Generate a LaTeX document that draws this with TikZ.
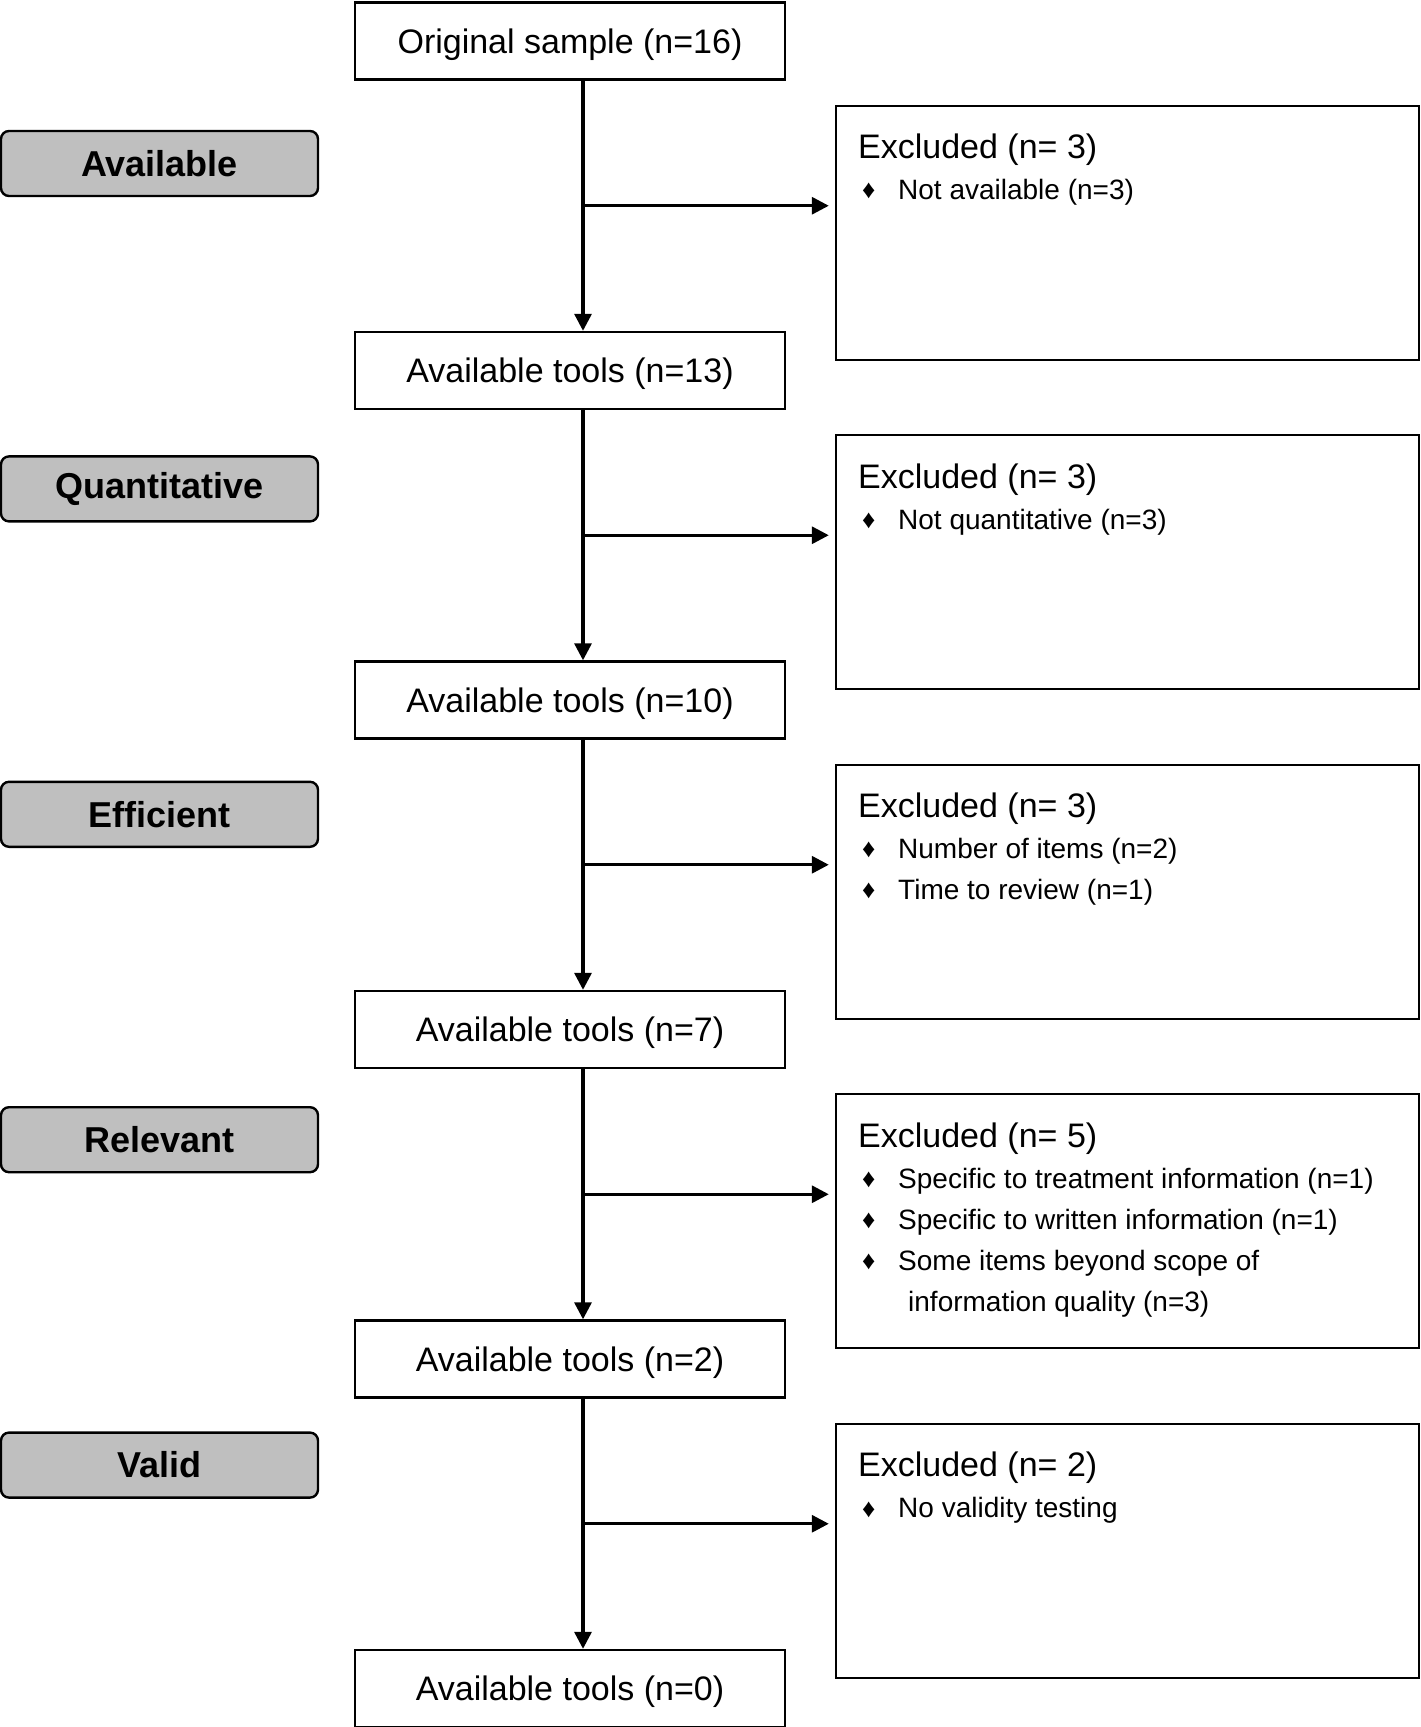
\documentclass[tikz,border=0pt]{standalone}
\usepackage{fontspec}
\setmainfont{Liberation Sans}
\usetikzlibrary{arrows.meta, positioning, calc}

\newcommand{\puce}{\hspace*{2pt}\makebox[18pt][l]{\fontsize{13}{13}\selectfont\raisebox{0.3pt}{♦}}}

\begin{document}
\begin{tikzpicture}[x=0.5pt, y=-0.5pt,
    etape/.style={rectangle, draw, line width=1.2pt, minimum width=215pt,
      minimum height=38.5pt, inner sep=0pt, text depth=0pt, font=\fontsize{17}{20}\selectfont},
    critere/.style={rectangle, draw, line width=1.2pt, fill=black!25, rounded corners=4pt,
      minimum width=158.5pt, minimum height=32.5pt, inner sep=0pt,
      font=\fontsize{18}{21}\selectfont\bfseries},
    exclu/.style={rectangle, draw, line width=1.2pt, minimum width=291.5pt, minimum height=127pt},
    detail/.style={anchor=north west, align=left, inner sep=0pt, font=\fontsize{14}{20.5}\selectfont},
    fleche/.style={-{Triangle[length=8.5pt, width=8.5pt]}, line width=1.6pt}
  ]
    \useasboundingbox (0,0) rectangle (1420,1727);

    % main column
    \node[etape] (orig) at (570,41) {Original sample (n=16)};
    \node[etape, below=125.05pt of orig] (dispo1) {Available tools (n=13)};
    \node[etape, below=125.05pt of dispo1] (dispo2) {Available tools (n=10)};
    \node[etape, below=125.05pt of dispo2] (dispo3) {Available tools (n=7)};
    \node[etape, below=125.05pt of dispo3] (dispo4) {Available tools (n=2)};
    \node[etape, below=125.05pt of dispo4] (dispo5) {Available tools (n=0)};

    % junctions on the vertical lines
    \coordinate (j1) at ($(orig)!0.5!(dispo1)+(13,0)$);
    \coordinate (j2) at ($(dispo1)!0.5!(dispo2)+(13,0)$);
    \coordinate (j3) at ($(dispo2)!0.5!(dispo3)+(13,0)$);
    \coordinate (j4) at ($(dispo3)!0.5!(dispo4)+(13,0)$);
    \coordinate (j5) at ($(dispo4)!0.5!(dispo5)+(13,0)$);

    % criteria on the left
    \node[critere] (crit1) at (159.5,163.5) {Available};
    \node[critere, below=129pt of crit1] (crit2) {Quantitative};
    \node[critere, below=129pt of crit2] (crit3) {Efficient};
    \node[critere, below=129pt of crit3] (crit4) {Relevant};
    \node[critere, below=129pt of crit4] (crit5) {Valid};

    % exclusion boxes
    \node[exclu] (excl1) at ($(j1)+(544.5,27)$) {};
    \node[exclu] (excl2) at ($(j2)+(544.5,27)$) {};
    \node[exclu] (excl3) at ($(j3)+(544.5,27)$) {};
    \node[exclu] (excl4) at ($(j4)+(544.5,27)$) {};
    \node[exclu] (excl5) at ($(j5)+(544.5,27)$) {};

    \node[detail] (txt1) at ([shift={(23,29)}]excl1.north west)
      {{\fontsize{17}{20}\selectfont Excluded (n= 3)}\\
       \puce Not available (n=3)};
    \node[detail] (txt2) at ([shift={(23,29)}]excl2.north west)
      {{\fontsize{17}{20}\selectfont Excluded (n= 3)}\\
       \puce Not quantitative (n=3)};
    \node[detail] (txt3) at ([shift={(23,29)}]excl3.north west)
      {{\fontsize{17}{20}\selectfont Excluded (n= 3)}\\
       \puce Number of items (n=2)\\
       \puce Time to review (n=1)};
    \node[detail] (txt4) at ([shift={(23,29)}]excl4.north west)
      {{\fontsize{17}{20}\selectfont Excluded (n= 5)}\\
       \puce Specific to treatment information (n=1)\\
       \puce Specific to written information (n=1)\\
       \puce Some items beyond scope of\\
       \hspace*{25pt}information quality (n=3)};
    \node[detail] (txt5) at ([shift={(23,29)}]excl5.north west)
      {{\fontsize{17}{20}\selectfont Excluded (n= 2)}\\
       \puce No validity testing};

    % connectors
    \foreach \haut/\bas/\i in {orig/dispo1/1, dispo1/dispo2/2, dispo2/dispo3/3,
                               dispo3/dispo4/4, dispo4/dispo5/5} {
      \draw[fleche] ([xshift=6.5pt]\haut.south) -- ([xshift=6.5pt]\bas.north);
      \draw[fleche, shorten >=3pt] (j\i) -- (excl\i.west |- j\i);
    }
  \end{tikzpicture}
\end{document}
